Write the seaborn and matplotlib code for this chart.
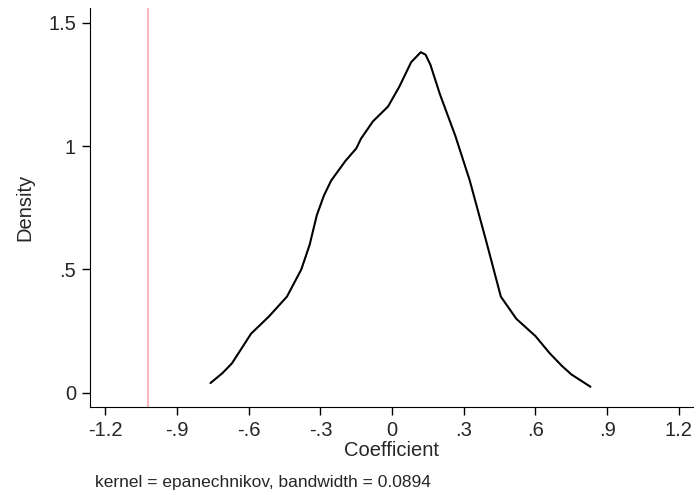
import matplotlib
matplotlib.use("Agg")
import matplotlib.pyplot as plt
import seaborn as sns
import pandas as pd

# kernel density curve
coef = [-0.76, -0.71, -0.67, -0.63, -0.59, -0.515, -0.44, -0.38, -0.345, -0.315, -0.285, -0.255,
        -0.195, -0.15, -0.13, -0.08, -0.017, 0.03, 0.08, 0.12, 0.14, 0.16, 0.2, 0.265,
        0.325, 0.395, 0.455, 0.52, 0.60, 0.66, 0.71, 0.75, 0.83]
dens = [0.04, 0.08, 0.12, 0.18, 0.24, 0.31, 0.39, 0.50, 0.60, 0.72, 0.80, 0.86,
        0.94, 0.99, 1.03, 1.10, 1.16, 1.24, 1.34, 1.38, 1.37, 1.33, 1.21, 1.04,
        0.86, 0.61, 0.39, 0.30, 0.23, 0.16, 0.11, 0.075, 0.025]
ref_line = -1.02
xticks = [-1.2, -0.9, -0.6, -0.3, 0, 0.3, 0.6, 0.9, 1.2]
xlabels = ["-1.2", "-.9", "-.6", "-.3", "0", ".3", ".6", ".9", "1.2"]
yticks = [0, 0.5, 1, 1.5]
ylabels = ["0", ".5", "1", "1.5"]

sns.set_style("ticks")
plt.rcParams['font.family'] = ['Liberation Sans', 'DejaVu Sans']

fig = plt.figure(figsize=(6.97, 4.95), dpi=100)
ax = fig.add_axes([90 / 697, 1 - 407 / 495, 603 / 697, 399 / 495])
df = pd.DataFrame({"Coefficient": coef, "Density": dens})
sns.lineplot(data=df, x="Coefficient", y="Density", color="black", lw=1.5, ax=ax)
ax.axvline(ref_line, color="#f7b6c0", lw=1.5)

ax.set_xlim(-1.264, 1.259)
ax.set_ylim(-0.057, 1.559)
ax.set_xticks(xticks)
ax.set_xticklabels(xlabels, fontsize=14.5)
ax.set_yticks(yticks)
ax.set_yticklabels(ylabels, fontsize=14.5, rotation=0)
ax.tick_params(length=6, width=1, color="black", pad=4)
ax.set_xlabel("Coefficient", fontsize=14.5, labelpad=1)
ax.set_ylabel("Density", fontsize=14.5, labelpad=10)
for s in ["top", "right"]:
    ax.spines[s].set_visible(False)
for s in ["left", "bottom"]:
    ax.spines[s].set_color("black")
fig.text(95 / 697, 1 - 483 / 495, "kernel = epanechnikov, bandwidth = 0.0894",
         fontsize=12.5, va="center")
fig.savefig("out.png", dpi=100)
